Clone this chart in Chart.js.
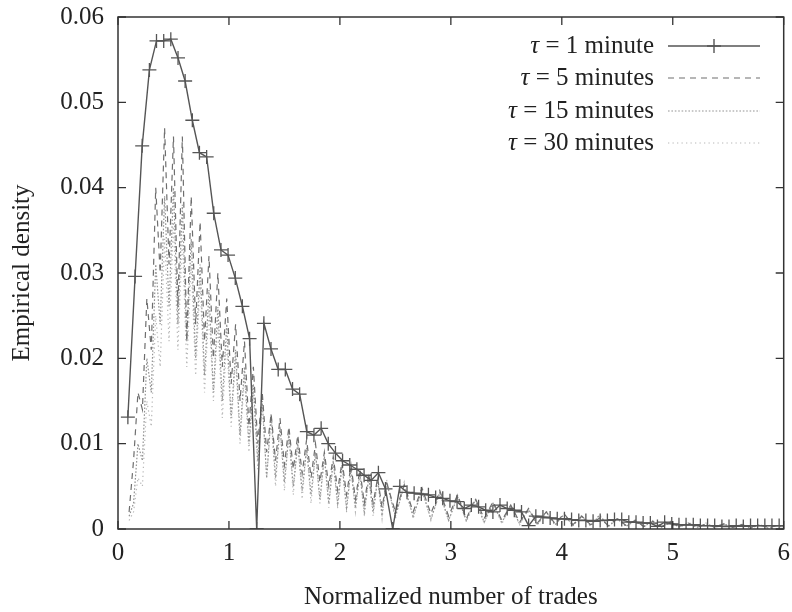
<!DOCTYPE html>
<html>
<head>
<meta charset="utf-8">
<script src="https://cdn.jsdelivr.net/npm/chart.js@4/dist/chart.umd.min.js"></script>
<style>
    html, body { margin: 0; padding: 0; background: #fff; }
    canvas { display: block; }
</style>
</head>
<body>
<canvas id="density" width="792" height="612" style="width:792px;height:612px"></canvas>
<script>

const xOneMinute = [
    0.089, 0.154, 0.218, 0.283, 0.347, 0.412, 0.476, 0.541, 0.605, 0.670,
    0.734, 0.799, 0.863, 0.928, 0.992, 1.057, 1.121, 1.186, 1.250, 1.315,
    1.379, 1.444, 1.508, 1.573, 1.637, 1.702, 1.766, 1.831, 1.895, 1.960,
    2.024, 2.089, 2.153, 2.218, 2.282, 2.347, 2.411, 2.476, 2.540, 2.605,
    2.669, 2.734, 2.798, 2.863, 2.927, 2.992, 3.056, 3.121, 3.185, 3.250,
    3.314, 3.379, 3.443, 3.508, 3.572, 3.637, 3.701, 3.766, 3.830, 3.895,
    3.959, 4.024, 4.088, 4.153, 4.217, 4.282, 4.346, 4.411, 4.475, 4.540,
    4.604, 4.669, 4.733, 4.798, 4.862, 4.927, 4.991, 5.056, 5.120, 5.185,
    5.249, 5.314, 5.378, 5.443, 5.507, 5.572, 5.636, 5.701, 5.765, 5.830,
    5.894, 5.959, 6.023
];
const yOneMinute = [
    0.0131, 0.0296, 0.0449, 0.0538, 0.0572, 0.0572, 0.0574, 0.0552, 0.0525, 0.0479,
    0.0441, 0.0436, 0.0370, 0.0327, 0.0321, 0.0294, 0.0261, 0.0223, 0.0000, 0.0241,
    0.0211, 0.0187, 0.0187, 0.0164, 0.0158, 0.0114, 0.0110, 0.0118, 0.0100, 0.0089,
    0.0080, 0.0075, 0.0070, 0.0063, 0.0057, 0.0066, 0.0047, 0.0000, 0.0050, 0.0043,
    0.0042, 0.0041, 0.0040, 0.0037, 0.0036, 0.0033, 0.0032, 0.0024, 0.0028, 0.0026,
    0.0022, 0.0020, 0.0028, 0.0024, 0.0022, 0.0020, 0.0004, 0.0015, 0.0014, 0.0013,
    0.0012, 0.0012, 0.0011, 0.0010, 0.0010, 0.0009, 0.0010, 0.0010, 0.0011, 0.0011,
    0.0008, 0.0008, 0.0007, 0.0007, 0.0003, 0.0008, 0.0006, 0.0005, 0.0005, 0.0005,
    0.0004, 0.0004, 0.0004, 0.0003, 0.0003, 0.0004, 0.0003, 0.0004, 0.0004, 0.0004,
    0.0004, 0.0004, 0.0004
];

// the longer windows share one x grid (they zigzag between high and low bins)
const xLonger = [
    0.10, 0.14, 0.18, 0.22, 0.26, 0.30, 0.34, 0.38, 0.42, 0.46,
    0.50, 0.54, 0.58, 0.62, 0.66, 0.70, 0.74, 0.78, 0.82, 0.86,
    0.90, 0.94, 0.98, 1.02, 1.06, 1.10, 1.14, 1.18, 1.22, 1.26,
    1.30, 1.34, 1.38, 1.42, 1.46, 1.50, 1.54, 1.58, 1.62, 1.66,
    1.70, 1.74, 1.78, 1.82, 1.86, 1.90, 1.94, 1.98, 2.02, 2.06,
    2.10, 2.14, 2.18, 2.22, 2.26, 2.30, 2.34, 2.38, 2.42,
    2.50, 2.58, 2.66, 2.74, 2.82, 2.90, 2.98, 3.06, 3.14, 3.22,
    3.30, 3.38, 3.46, 3.54, 3.62, 3.70, 3.78, 3.86, 3.94, 4.02,
    4.10, 4.18, 4.26, 4.34, 4.42, 4.50, 4.58, 4.66, 4.74, 4.82,
    4.90, 4.98, 5.06, 5.14, 5.22, 5.30, 5.38, 5.46, 5.54, 5.62,
    5.70, 5.78, 5.86, 5.94, 6.02
];
const yFiveMinutes = [
    0.0020, 0.0080, 0.0160, 0.0140, 0.0270, 0.0210, 0.0400, 0.0300, 0.0470, 0.0310,
    0.0460, 0.0260, 0.0460, 0.0220, 0.0390, 0.0240, 0.0360, 0.0220, 0.0320, 0.0200,
    0.0300, 0.0190, 0.0270, 0.0170, 0.0240, 0.0150, 0.0220, 0.0120, 0.0190, 0.0100,
    0.0160, 0.0090, 0.0135, 0.0080, 0.0130, 0.0075, 0.0120, 0.0070, 0.0110, 0.0065,
    0.0105, 0.0060, 0.0100, 0.0055, 0.0090, 0.0050, 0.0085, 0.0045, 0.0080, 0.0040,
    0.0075, 0.0035, 0.0070, 0.0030, 0.0065, 0.0030, 0.0060, 0.0025, 0.0055,
    0.0020, 0.0052, 0.0020, 0.0048, 0.0018, 0.0045, 0.0015, 0.0040, 0.0012, 0.0036,
    0.0012, 0.0032, 0.0010, 0.0028, 0.0008, 0.0024, 0.0007, 0.0020, 0.0006, 0.0018,
    0.0005, 0.0015, 0.0005, 0.0013, 0.0004, 0.0012, 0.0004, 0.0010, 0.0003, 0.0009,
    0.0003, 0.0008, 0.0003, 0.0007, 0.0002, 0.0006, 0.0002, 0.0006, 0.0002, 0.0005,
    0.0002, 0.0005, 0.0002, 0.0004, 0.0002
];
const yFifteenMinutes = [
    0.0015, 0.0030, 0.0100, 0.0080, 0.0200, 0.0160, 0.0310, 0.0240, 0.0390, 0.0260,
    0.0400, 0.0240, 0.0380, 0.0220, 0.0340, 0.0200, 0.0310, 0.0180, 0.0280, 0.0160,
    0.0260, 0.0150, 0.0240, 0.0130, 0.0210, 0.0110, 0.0190, 0.0100, 0.0170, 0.0080,
    0.0150, 0.0060, 0.0135, 0.0060, 0.0120, 0.0055, 0.0110, 0.0050, 0.0100, 0.0045,
    0.0095, 0.0040, 0.0090, 0.0035, 0.0085, 0.0030, 0.0080, 0.0030, 0.0075, 0.0025,
    0.0070, 0.0025, 0.0065, 0.0020, 0.0060, 0.0020, 0.0058, 0.0018, 0.0055,
    0.0015, 0.0050, 0.0015, 0.0045, 0.0012, 0.0042, 0.0010, 0.0038, 0.0010, 0.0034,
    0.0008, 0.0030, 0.0008, 0.0027, 0.0006, 0.0023, 0.0005, 0.0020, 0.0005, 0.0017,
    0.0004, 0.0015, 0.0004, 0.0016, 0.0003, 0.0012, 0.0003, 0.0010, 0.0003, 0.0009,
    0.0002, 0.0008, 0.0002, 0.0007, 0.0002, 0.0006, 0.0002, 0.0006, 0.0002, 0.0005,
    0.0001, 0.0005, 0.0001, 0.0004, 0.0001
];
const yThirtyMinutes = [
    0.0010, 0.0020, 0.0060, 0.0050, 0.0150, 0.0120, 0.0250, 0.0190, 0.0340, 0.0220,
    0.0360, 0.0210, 0.0340, 0.0190, 0.0310, 0.0180, 0.0290, 0.0160, 0.0260, 0.0150,
    0.0240, 0.0130, 0.0220, 0.0120, 0.0200, 0.0100, 0.0180, 0.0090, 0.0160, 0.0070,
    0.0150, 0.0060, 0.0130, 0.0050, 0.0120, 0.0045, 0.0115, 0.0040, 0.0105, 0.0035,
    0.0095, 0.0030, 0.0090, 0.0030, 0.0085, 0.0025, 0.0080, 0.0025, 0.0075, 0.0020,
    0.0070, 0.0020, 0.0068, 0.0015, 0.0062, 0.0015, 0.0060, 0.0012, 0.0058,
    0.0012, 0.0055, 0.0012, 0.0048, 0.0010, 0.0044, 0.0009, 0.0040, 0.0008, 0.0035,
    0.0007, 0.0031, 0.0006, 0.0028, 0.0005, 0.0024, 0.0005, 0.0021, 0.0004, 0.0018,
    0.0004, 0.0016, 0.0003, 0.0017, 0.0003, 0.0013, 0.0003, 0.0011, 0.0002, 0.0010,
    0.0002, 0.0009, 0.0002, 0.0008, 0.0002, 0.0007, 0.0001, 0.0006, 0.0001, 0.0006,
    0.0001, 0.0005, 0.0001, 0.0004, 0.0001
];

const xTicks = [0, 1, 2, 3, 4, 5, 6];
const yTicks = [0, 0.01, 0.02, 0.03, 0.04, 0.05, 0.06];
const legendLabels = ['1 minute', '5 minutes', '15 minutes', '30 minutes'];

const fontFamily = "'Liberation Serif', 'DejaVu Serif', serif";
const fontSize = 25;
const textColor = '#222';
const frameColor = '#333';

let toPoints = (xs, ys) => xs.map((x, i) => ({ x, y: ys[i] }));

let seriesStyles = [
    { color: '#555', width: 1.4, dash: [] },
    { color: '#6e6e6e', width: 1.2, dash: [6, 5] },
    { color: '#939393', width: 1.2, dash: [1.6, 1.8] },
    { color: '#b8b8b8', width: 1.2, dash: [1.3, 3.2] }
];

// gnuplot style frame: full box with inward ticks on all four sides
const framePlugin = {
    id: 'frame',
    afterDraw(chart) {
        let ctx = chart.ctx;
        let area = chart.chartArea;
        let xs = chart.scales.x;
        let ys = chart.scales.y;
        ctx.save();
        ctx.strokeStyle = frameColor;
        ctx.lineWidth = 1.5;
        ctx.strokeRect(area.left, area.top, area.right - area.left, area.bottom - area.top);
        ctx.lineWidth = 1.3;
        ctx.beginPath();
        for (let v of xTicks) {
            let px = xs.getPixelForValue(v);
            ctx.moveTo(px, area.bottom); ctx.lineTo(px, area.bottom - 8);
            ctx.moveTo(px, area.top); ctx.lineTo(px, area.top + 8);
        }
        for (let v of yTicks) {
            let py = ys.getPixelForValue(v);
            ctx.moveTo(area.left, py); ctx.lineTo(area.left + 8, py);
            ctx.moveTo(area.right, py); ctx.lineTo(area.right - 8, py);
        }
        ctx.stroke();
        ctx.restore();
    }
};

// legend drawn by hand: right aligned labels, sample line to the right
const legendPlugin = {
    id: 'keyBox',
    afterDraw(chart) {
        let ctx = chart.ctx;
        let textRight = 654;
        let lineStart = 668;
        let lineEnd = 760;
        let rows = [46, 78, 111, 143];
        ctx.save();
        ctx.textBaseline = 'middle';
        ctx.fillStyle = textColor;
        legendLabels.forEach((label, i) => {
            let y = rows[i];
            let rest = ' = ' + label;
            ctx.font = fontSize + 'px ' + fontFamily;
            let restWidth = ctx.measureText(rest).width;
            ctx.textAlign = 'left';
            ctx.fillText(rest, textRight - restWidth, y);
            ctx.font = 'italic ' + fontSize + 'px ' + fontFamily;
            let tauWidth = ctx.measureText('\u03c4').width;
            ctx.fillText('\u03c4', textRight - restWidth - tauWidth, y);

            let style = seriesStyles[i];
            ctx.strokeStyle = style.color;
            ctx.lineWidth = style.width;
            ctx.setLineDash(style.dash);
            ctx.beginPath();
            ctx.moveTo(lineStart, y);
            ctx.lineTo(lineEnd, y);
            ctx.stroke();
            ctx.setLineDash([]);
            if (i == 0) {
                let cx = (lineStart + lineEnd) / 2;
                ctx.beginPath();
                ctx.moveTo(cx - 7, y); ctx.lineTo(cx + 7, y);
                ctx.moveTo(cx, y - 7); ctx.lineTo(cx, y + 7);
                ctx.stroke();
            }
        });
        ctx.restore();
    }
};

let makeDataset = (label, points, style, withMarkers) => {
    return {
        label,
        data: points,
        showLine: true,
        borderColor: style.color,
        borderWidth: style.width,
        borderDash: style.dash,
        backgroundColor: style.color,
        pointStyle: 'cross',
        pointRadius: withMarkers ? 7 : 0,
        pointBorderWidth: 1.3,
        pointBorderColor: style.color,
        tension: 0
    };
};

let axisFont = { family: fontFamily, size: fontSize };

let chart = new Chart(document.getElementById('density').getContext('2d'), {
    type: 'scatter',
    data: {
        datasets: [
            makeDataset('1 minute', toPoints(xOneMinute, yOneMinute), seriesStyles[0], true),
            makeDataset('5 minutes', toPoints(xLonger, yFiveMinutes), seriesStyles[1], false),
            makeDataset('15 minutes', toPoints(xLonger, yFifteenMinutes), seriesStyles[2], false),
            makeDataset('30 minutes', toPoints(xLonger, yThirtyMinutes), seriesStyles[3], false)
        ]
    },
    options: {
        responsive: false,
        animation: false,
        layout: { padding: { left: 0, right: 2, top: 17, bottom: 0 } },
        plugins: {
            legend: { display: false },
            tooltip: { enabled: false }
        },
        scales: {
            x: {
                type: 'linear',
                min: 0,
                max: 6,
                afterFit: (scale) => {
                    // the last label may run past the frame, as in the original
                    scale.height = 83;
                    scale.paddingLeft = 0;
                    scale.paddingRight = 0;
                },
                afterBuildTicks: (scale) => { scale.ticks = xTicks.map(v => ({ value: v })); },
                ticks: { color: textColor, font: axisFont, padding: 9, maxRotation: 0,
                    callback: (v) => String(v) },
                grid: { display: false, drawTicks: false },
                border: { display: false },
                title: { display: true, text: 'Normalized number of trades', color: textColor,
                    font: axisFont, padding: { top: 0, bottom: 0 } }
            },
            y: {
                type: 'linear',
                min: 0,
                max: 0.06,
                afterFit: (scale) => {
                    scale.width = 118;
                    scale.paddingTop = 0;
                    scale.paddingBottom = 0;
                },
                afterBuildTicks: (scale) => { scale.ticks = yTicks.map(v => ({ value: v })); },
                ticks: { color: textColor, font: axisFont, padding: 14,
                    callback: (v) => v === 0 ? '0' : v.toFixed(2) },
                grid: { display: false, drawTicks: false },
                border: { display: false },
                title: { display: true, text: 'Empirical density', color: textColor,
                    font: axisFont, padding: { top: 7, bottom: 0 } }
            }
        }
    },
    plugins: [framePlugin, legendPlugin]
});
</script>
</body>
</html>
